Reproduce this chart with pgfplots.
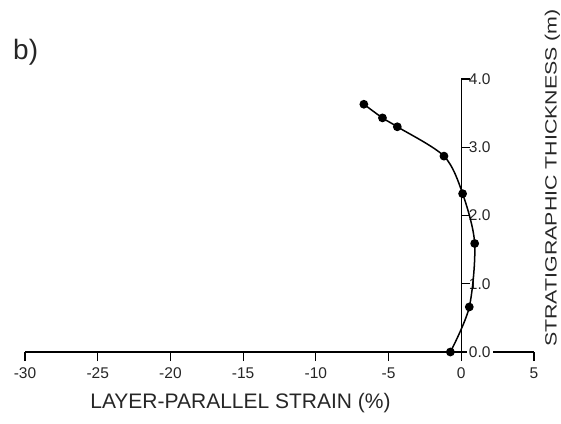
\documentclass[border=0pt]{standalone}
\usepackage{pgfplots}
\pgfplotsset{compat=1.18}
\usepackage{fontspec}
\setmainfont{Liberation Sans}
\begin{document}
\begin{tikzpicture}
\useasboundingbox (-25pt,-71pt) rectangle (536pt,352pt);
\begin{axis}[
  at={(0pt,0pt)}, anchor=south west,
  scale only axis, width=509pt, height=273pt,
  xmin=-30, xmax=5, ymin=0, ymax=4,
  axis x line=bottom, axis y line=middle,
  axis line style={-, line width=1.1pt, black},
  xtick={-30,-25,-20,-15,-10,-5,0,5},
  xticklabels={-30,-25,-20,-15,-10,-5,0,5},
  ytick={1,2,3,4},
  yticklabels={1.0,2.0,3.0,4.0},
  extra y ticks={0},
  extra y tick labels={0.0},
  extra y tick style={yticklabel style={fill=white}},
  tick style={black, line width=1.1pt},
  major tick length=9pt,
  xtick align=outside,
  ytick style={xshift=4.5pt},
  every tick label/.append style={font=\fontsize{15.5}{18}\selectfont, text=black!85},
  xticklabel style={anchor=base, yshift=-17pt},
  yticklabel style={anchor=west, inner sep=2pt, xshift=10pt},
  clip=false,
]
\addplot[black, line width=1.5pt, smooth, tension=0.5, mark=*, mark size=3.6pt] coordinates {
  (-0.75,0.0)
  (0.55,0.66)
  (0.92,1.59)
  (0.09,2.32)
  (-1.19,2.87)
  (-4.4,3.30)
  (-5.42,3.43)
  (-6.7,3.63)
};
\end{axis}
\node[anchor=base, font=\fontsize{21}{24}\selectfont, text=black!85] at (215.5pt,-56pt) {LAYER-PARALLEL STRAIN (\%)};
\node[rotate=90, anchor=base, inner sep=0pt, font=\fontsize{16.3}{19}\selectfont, text=black!85] at (531.7pt,174pt) {\scalebox{1.31}[1]{STRATIGRAPHIC THICKNESS (m)}};
\node[anchor=base west, font=\fontsize{28}{32}\selectfont, text=black!85, inner sep=0pt] at (-12pt,292pt) {b)};
\end{tikzpicture}
\end{document}
